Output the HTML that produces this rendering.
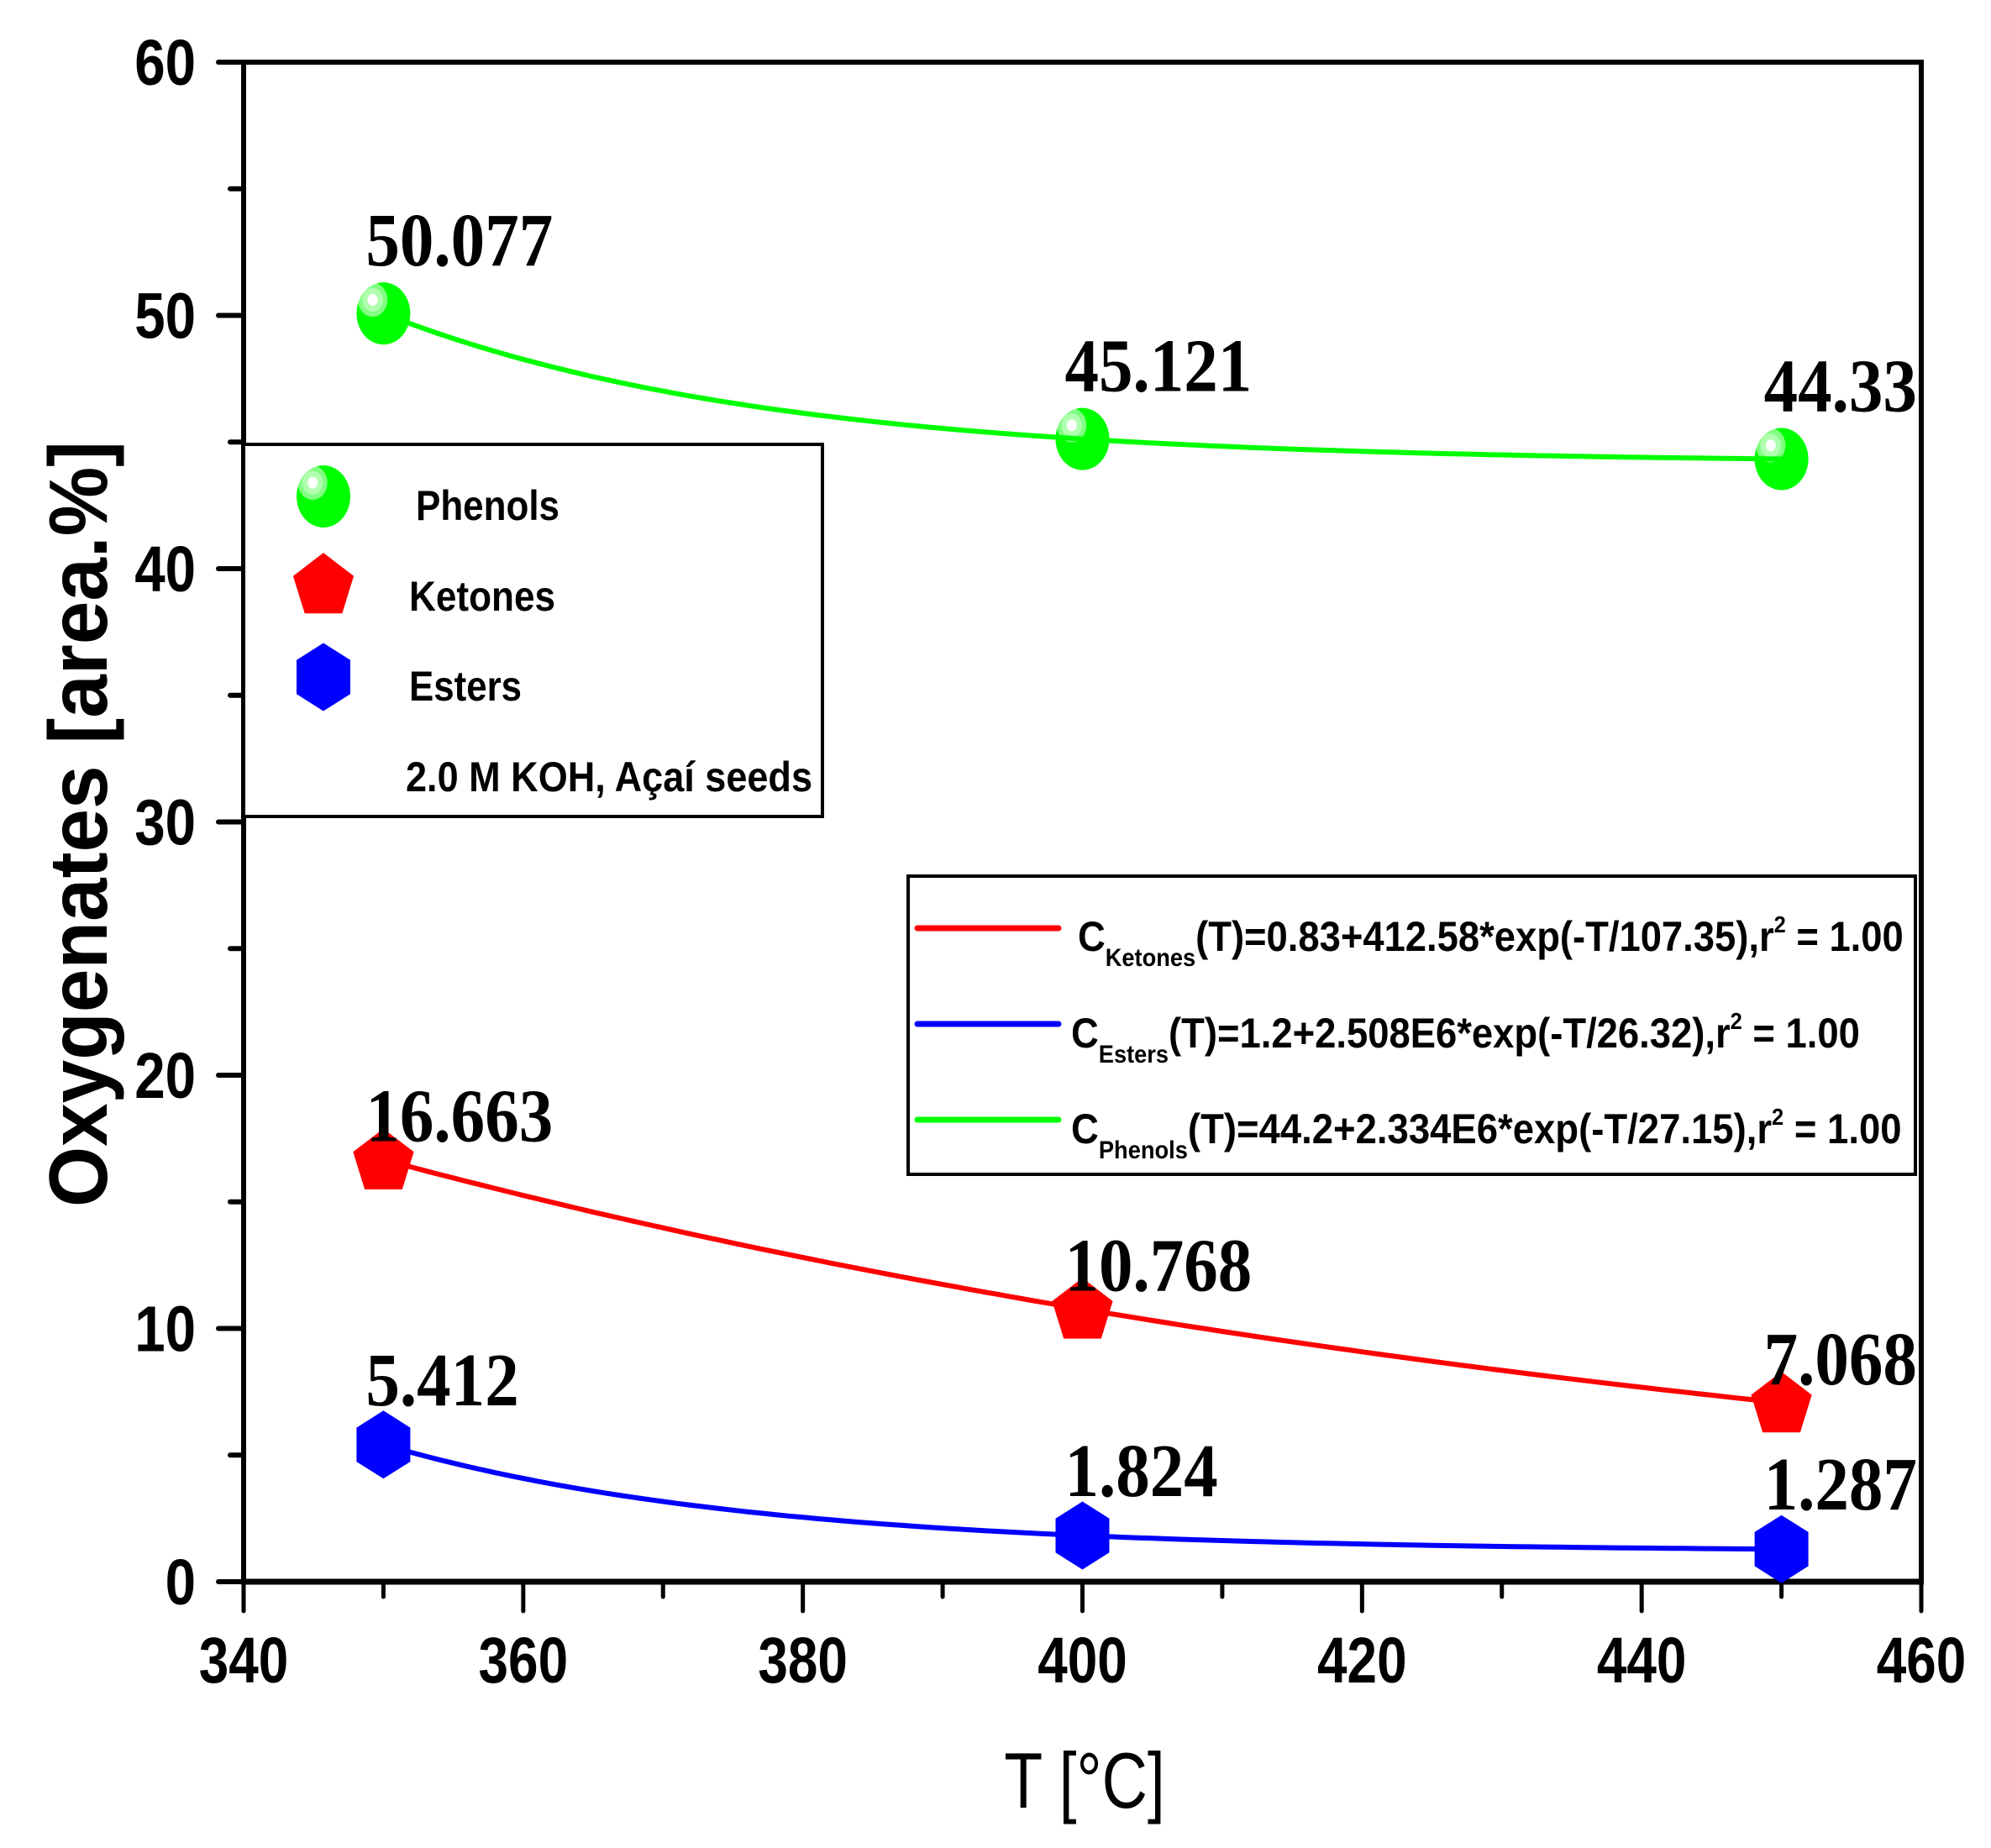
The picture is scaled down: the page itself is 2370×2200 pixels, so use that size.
<!DOCTYPE html>
<html><head><meta charset="utf-8">
<style>
html,body{margin:0;padding:0;background:#fff;}
svg{display:block;}
text{font-family:"Liberation Sans",Arial,sans-serif;}
.bold{font-weight:bold;}
.serif{font-family:"Liberation Serif","Times New Roman",serif;font-weight:bold;}
</style></head>
<body>
<svg id="chart" width="2370" height="2200" viewBox="0 0 2370 2200" xmlns="http://www.w3.org/2000/svg">
<rect x="0" y="0" width="2370" height="2200" fill="#fff"/>
<defs>
<radialGradient id="sphere" cx="0.3" cy="0.28" r="0.75">
<stop offset="0" stop-color="#ffffff"/>
<stop offset="0.12" stop-color="#ffffff"/>
<stop offset="0.13" stop-color="#b0ffb0"/>
<stop offset="0.25" stop-color="#b0ffb0"/>
<stop offset="0.26" stop-color="#80ff80"/>
<stop offset="0.36" stop-color="#80ff80"/>
<stop offset="0.37" stop-color="#00ff00"/>
<stop offset="1" stop-color="#00ff00"/>
</radialGradient>
</defs>
<g id="plot"></g>
</svg>
<script>
const categories = [350, 400, 450];
const phenols = [50.077, 45.121, 44.33];
const ketones = [16.663, 10.768, 7.068];
const esters = [5.412, 1.824, 1.287];
const phenolLabels = ["50.077", "45.121", "44.33"];
const ketoneLabels = ["16.663", "10.768", "7.068"];
const esterLabels = ["5.412", "1.824", "1.287"];
const xTicks = [340, 360, 380, 400, 420, 440, 460];
const xMinor = [350, 370, 390, 410, 430, 450];
const yTicks = [0, 10, 20, 30, 40, 50, 60];
const yMinor = [5, 15, 25, 35, 45, 55];

const NS = "http://www.w3.org/2000/svg";
const L = 290, R = 2287, T = 74, B = 1883;
const xMin = 340, xMax = 460, yMin = 0, yMax = 60;
function X(v){ return L + (v - xMin) / (xMax - xMin) * (R - L); }
function Y(v){ return B - (v - yMin) / (yMax - yMin) * (B - T); }
const svg = document.getElementById('chart');
const plot = document.getElementById('plot');
function mk(tag, attrs, parent){
  const e = document.createElementNS(NS, tag);
  for (const k in attrs) e.setAttribute(k, attrs[k]);
  (parent || plot).appendChild(e);
  return e;
}
function squish(el, f){
  const w = el.getComputedTextLength();
  el.setAttribute('textLength', (w * f).toFixed(1));
  el.setAttribute('lengthAdjust', 'spacingAndGlyphs');
}

function curvePath(ys){
  const pts = [];
  const r = (ys[2] - ys[1]) / (ys[1] - ys[0]);
  const h = categories[1] - categories[0];
  let f;
  if (r > 0 && r < 1 && isFinite(r)) {
    const k = -Math.log(r) / h;
    const e0 = Math.exp(-k * categories[0]), e1 = Math.exp(-k * categories[1]);
    const b = (ys[1] - ys[0]) / (e1 - e0);
    const a = ys[0] - b * e0;
    f = t => a + b * Math.exp(-k * t);
  } else {
    f = t => {
      if (t <= categories[1]) return ys[0] + (ys[1]-ys[0])*(t-categories[0])/h;
      return ys[1] + (ys[2]-ys[1])*(t-categories[1])/h;
    };
  }
  for (let i = 0; i <= 100; i++) {
    const t = categories[0] + (categories[2] - categories[0]) * i / 100;
    pts.push((i ? 'L' : 'M') + X(t).toFixed(1) + ',' + Y(f(t)).toFixed(1));
  }
  return pts.join(' ');
}

function pentagon(cx, cy, r){
  const p = [];
  for (let i = 0; i < 5; i++) {
    const a = -Math.PI/2 + i * 2*Math.PI/5;
    p.push((cx + r*1.0*Math.cos(a)).toFixed(1) + ',' + (cy + r*1.05*Math.sin(a)).toFixed(1));
  }
  return p.join(' ');
}
function hexagon(cx, cy, w, h){
  return [[0,-h/2],[w/2,-h/4],[w/2,h/4],[0,h/2],[-w/2,h/4],[-w/2,-h/4]]
    .map(q => (cx+q[0]).toFixed(1)+','+(cy+q[1]).toFixed(1)).join(' ');
}
function drawMarker(kind, cx, cy){
  let m;
  if (kind === 'phenol') {
    m = mk('ellipse', {cx: cx, cy: cy, rx: 32, ry: 37, fill: 'url(#sphere)'});
  } else if (kind === 'ketone') {
    m = mk('polygon', {points: pentagon(cx, cy + 3, 38), fill: '#ff0000'});
  } else {
    m = mk('polygon', {points: hexagon(cx, cy, 64, 81), fill: '#0000ff'});
  }
  return m;
}

const axisLeft = mk('line', {x1: L, y1: T - 3, x2: L, y2: B + 3, stroke: '#000', 'stroke-width': 6});


const axisBottom = mk('line', {x1: L - 3, y1: B, x2: R + 3, y2: B, stroke: '#000', 'stroke-width': 7});


const axisTop = mk('line', {x1: L - 3, y1: T, x2: R + 3, y2: T, stroke: '#000', 'stroke-width': 6});


const axisRight = mk('line', {x1: R, y1: T - 3, x2: R, y2: B + 3, stroke: '#000', 'stroke-width': 6});



yTicks.forEach(v => {
  const t = mk('line', {x1: L - 30, y1: Y(v), x2: L, y2: Y(v), stroke: '#000', 'stroke-width': 6, 'stroke-linecap': 'round'});
  
  
  const lb = mk('text', {x: 233, y: Y(v) + 27, 'text-anchor': 'end', 'font-size': 77, 'class': 'bold'});
  lb.textContent = String(v);
  
  
  squish(lb, 0.85);
});
yMinor.forEach(v => {
  const t = mk('line', {x1: L - 16, y1: Y(v), x2: L, y2: Y(v), stroke: '#000', 'stroke-width': 6, 'stroke-linecap': 'round'});
  
  
});
xTicks.forEach(v => {
  const t = mk('line', {x1: X(v), y1: B, x2: X(v), y2: B + 35, stroke: '#000', 'stroke-width': 5, 'stroke-linecap': 'round'});
  
  
  const lb = mk('text', {x: X(v), y: 2003, 'text-anchor': 'middle', 'font-size': 77, 'class': 'bold'});
  lb.textContent = String(v);
  
  
  squish(lb, 0.83);
});
xMinor.forEach(v => {
  const t = mk('line', {x1: X(v), y1: B, x2: X(v), y2: B + 18, stroke: '#000', 'stroke-width': 5, 'stroke-linecap': 'round'});
  
  
});

const xt = mk('text', {x: 1291, y: 2152, 'text-anchor': 'middle', 'font-size': 94});
xt.textContent = 'T [°C]';


squish(xt, 0.8);
const yt = mk('text', {x: 0, y: 0, 'text-anchor': 'middle', 'font-size': 98, 'class': 'bold', transform: 'translate(127,981) rotate(-90)'});
yt.textContent = 'Oxygenates [area.%]';


yt.setAttribute('textLength', 912);
yt.setAttribute('lengthAdjust', 'spacingAndGlyphs');

const leg1 = mk('rect', {x: 290, y: 529, width: 689, height: 443, fill: '#fff', stroke: '#000', 'stroke-width': 4});


const lm1 = mk('ellipse', {cx: 385, cy: 591, rx: 32, ry: 37, fill: 'url(#sphere)'});


const lm2 = mk('polygon', {points: pentagon(385, 698, 38), fill: '#ff0000'});


const lm3 = mk('polygon', {points: hexagon(385, 806, 64, 81), fill: '#0000ff'});


[['Phenols', 495, 619, 171, 'legend-phenols-label'], ['Ketones', 487, 727, 174, 'legend-ketones-label'],
 ['Esters', 487, 834, 134, 'legend-esters-label'], ['2.0 M KOH, Açaí seeds', 483, 942, 484, 'legend-condition-note']].forEach(d => {
  const t = mk('text', {x: d[1], y: d[2], 'font-size': 50, 'class': 'bold', textLength: d[3], lengthAdjust: 'spacingAndGlyphs'});
  t.textContent = d[0];
  
  
});

const leg2 = mk('rect', {x: 1081, y: 1043, width: 1199, height: 355, fill: '#fff', stroke: '#000', 'stroke-width': 4});


[['#ff0000', 1105, 1283, 1132, 'Ketones', '(T)=0.83+412.58*exp(-T/107.35),r', 2266, 'legend-ketones-fit'],
 ['#0000ff', 1219, 1275, 1247, 'Esters', '(T)=1.2+2.508E6*exp(-T/26.32),r', 2214, 'legend-esters-fit'],
 ['#00ff00', 1333, 1275, 1361, 'Phenols', '(T)=44.2+2.334E6*exp(-T/27.15),r', 2264, 'legend-phenols-fit']].forEach(d => {
  const ln = mk('line', {x1: 1092, y1: d[1], x2: 1260, y2: d[1], stroke: d[0], 'stroke-width': 7, 'stroke-linecap': 'round'});
  
  
  const t = mk('text', {x: 0, y: 0, 'font-size': 50, 'class': 'bold'});
  
  
  const s1 = mk('tspan', {}, t); s1.textContent = 'C';
  const s2 = mk('tspan', {'font-size': 30, dy: 18}, t); s2.textContent = d[4];
  const s3 = mk('tspan', {dy: -18}, t); s3.textContent = d[5];
  const s4 = mk('tspan', {'font-size': 28, dy: -22}, t); s4.textContent = '2';
  const s5 = mk('tspan', {dy: 22}, t); s5.textContent = ' = 1.00';
  const w = t.getComputedTextLength();
  const sx = (d[6] - d[2]) / w;
  t.setAttribute('transform', 'translate(' + d[2] + ',' + d[3] + ') scale(' + sx.toFixed(4) + ',1)');
});

const series = [
  {vals: ketones, labels: ketoneLabels, color: '#ff0000', kind: 'ketone', off: -22, name: 'ketones'},
  {vals: esters, labels: esterLabels, color: '#0000ff', kind: 'ester', off: -47, name: 'esters'},
  {vals: phenols, labels: phenolLabels, color: '#00ff00', kind: 'phenol', off: -57, name: 'phenols'}
];
series.forEach(s => {
  s.vals.forEach((v, i) => {
    const m = drawMarker(s.kind, X(categories[i]), Y(v));
    
    
  });
  const p = mk('path', {d: curvePath(s.vals), fill: 'none', stroke: s.color, 'stroke-width': 6});
  
  
  s.vals.forEach((v, i) => {
    const t = mk('text', {x: X(categories[i]) - 21, y: Y(v) + s.off, 'font-size': 90, 'class': 'serif'});
    t.textContent = s.labels[i];
    
    
    squish(t, 0.9);
  });
});
</script>
</body></html>
